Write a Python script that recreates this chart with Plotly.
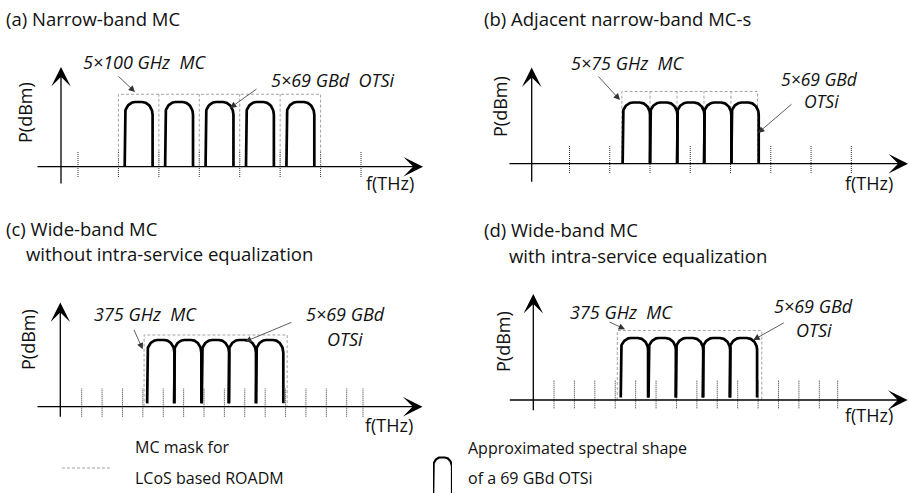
import numpy as np
import plotly.graph_objects as go

FIG_W, FIG_H = 909, 493

# ------------------------------------------------------------------ data
# frequency grid ticks (GHz, relative to the first grid line of each panel)
ticks_a = [0, 100, 200, 300, 400, 500, 600, 700]
ticks_b = [0, 100, 200, 300, 400, 500, 600, 700]
ticks_c = [0, 50, 100, 150, 200, 250, 300, 350, 400, 450, 500, 550, 600, 650, 690]
ticks_d = [0, 50, 100, 150, 200, 250, 300, 350, 400, 450, 500, 550, 600, 650, 695]

# media-channel (MC) mask edges (GHz)
mask_edges_a = [100, 200, 300, 400, 500, 600]
mask_edges_b = [130, 200, 267, 334, 401, 467]
mask_edges_c = [153, 504]
mask_edges_d = [155, 509]

# OTSi carrier centre frequencies (GHz) and occupied bandwidths (GHz)
otsi_centers_a = [150, 250, 350, 450, 550]
otsi_centers_b = [166, 234, 301, 368, 436]
otsi_centers_c = [194, 260, 328, 394, 461]
otsi_centers_d = [197, 265, 332, 398, 464]
otsi_bw = {"a": 69, "b": 68, "c": 67, "d": 67}

# normalised power levels (axis = 0, OTSi peak = 1)
otsi_peak = {"a": 1.0, "b": 1.0, "c": 1.0, "d": 1.0}
otsi_floor = {"a": 0.0, "b": 0.0, "c": 0.05, "d": 0.04}
mask_level = {"a": 1.12, "b": 1.18, "c": 1.075, "d": 1.12}

# texts
titles_line1 = {"a": "(a) Narrow-band MC", "b": "(b) Adjacent narrow-band MC-s",
                "c": "(c) Wide-band MC", "d": "(d) Wide-band MC"}
titles_line2 = {"c": "without intra-service equalization", "d": "with intra-service equalization"}
mc_labels = {"a": "5×100 GHz  MC", "b": "5×75 GHz  MC", "c": "375 GHz  MC", "d": "375 GHz  MC"}
otsi_label_lines = {"a": ["5×69 GBd  OTSi"], "b": ["5×69 GBd", "OTSi"],
                    "c": ["5×69 GBd", "OTSi"], "d": ["5×69 GBd", "OTSi"]}
y_label = "P(dBm)"
x_label = "f(THz)"
legend_mask_text = ["MC mask for", "LCoS based ROADM"]
legend_otsi_text = ["Approximated spectral shape", "of a 69 GBd OTSi"]

ticks = {"a": ticks_a, "b": ticks_b, "c": ticks_c, "d": ticks_d}
mask_edges = {"a": mask_edges_a, "b": mask_edges_b, "c": mask_edges_c, "d": mask_edges_d}
otsi_centers = {"a": otsi_centers_a, "b": otsi_centers_b, "c": otsi_centers_c, "d": otsi_centers_d}

# ------------------------------------------------------------------ layout (pixels)
PANELS = ["a", "b", "c", "d"]
AX = {"a": ("x", "y"), "b": ("x2", "y2"), "c": ("x3", "y3"), "d": ("x4", "y4")}
PX0 = {"a": 78.0, "b": 569.5, "c": 81.7, "d": 554.0}      # pixel of f = 0
KX = {"a": 0.4043, "b": 0.4026, "c": 0.4077, "d": 0.4082}  # px per GHz
PY0 = {"a": 166.7, "b": 163.7, "c": 406.7, "d": 400.0}     # pixel of P = 0 (axis)
KY = {"a": 64.7, "b": 61.2, "c": 66.7, "d": 62.0}          # px per power unit
YAXIS = {"a": (61, 185, 67), "b": (531.7, 183.3, 67.5), "c": (60.3, 418.3, 302.5), "d": (533.3, 411.7, 294)}
XAXIS = {"a": (36, 423), "b": (508, 908), "c": (36, 422.5), "d": (508.3, 907.5)}
TICK_UP = {"a": 14.7, "b": 18.7, "c": 18.4, "d": 20.0}
TICK_DN = {"a": 10.3, "b": 9.3, "c": 10.0, "d": 8.3}

TEXT_COLOR = "#111111"
FONT = "Open Sans"


def fx(p, px):
    return (px - PX0[p]) / KX[p]


def fy(p, py):
    return (PY0[p] - py) / KY[p]


def xp(px):
    return px / FIG_W


def yp(py):
    return 1 - py / FIG_H


def otsi_profile(fc, bw, top, floor, n=30):
    a = bw / 2.0
    rx = 0.75 * a
    ry = 0.2 * (top - floor)
    xs = [fc - a, fc - a]
    ys = [floor, top - ry]
    th = np.linspace(np.pi, np.pi / 2, n)
    xs += list(fc - a + rx + rx * np.cos(th))
    ys += list(top - ry + ry * np.sin(th))
    th = np.linspace(np.pi / 2, 0, n)
    xs += list(fc + a - rx + rx * np.cos(th))
    ys += list(top - ry + ry * np.sin(th))
    xs += [fc + a, fc + a]
    ys += [top - ry, floor]
    return xs, ys


fig = go.Figure()
annotations = []

for p in PANELS:
    xr, yr = AX[p]
    # grid ticks
    tx, ty = [], []
    for f in ticks[p]:
        tx += [f, f, None]
        ty += [-TICK_DN[p] / KY[p], TICK_UP[p] / KY[p], None]
    fig.add_trace(go.Scatter(x=tx, y=ty, mode="lines", xaxis=xr, yaxis=yr,
                             line=dict(color="#333333", width=1, dash="1px,1px"),
                             hoverinfo="skip"))
    # MC mask
    e = mask_edges[p]
    lvl = mask_level[p]
    mx = [e[0], e[0], e[-1], e[-1], None]
    my = [0, lvl, lvl, 0, None]
    for d in e[1:-1]:
        mx += [d, d, None]
        my += [0, lvl, None]
    fig.add_trace(go.Scatter(x=mx, y=my, mode="lines", xaxis=xr, yaxis=yr,
                             line=dict(color="#a3a3a3", width=1, dash="3px,2px"),
                             hoverinfo="skip"))
    # OTSi spectra
    sx, sy = [], []
    for fc in otsi_centers[p]:
        xs, ys = otsi_profile(fc, otsi_bw[p], otsi_peak[p], otsi_floor[p])
        sx += xs + [None]
        sy += ys + [None]
    fig.add_trace(go.Scatter(x=sx, y=sy, mode="lines", xaxis=xr, yaxis=yr,
                             line=dict(color="black", width=2.7, shape="linear"),
                             hoverinfo="skip"))
    # axes arrows
    yx, yb, yt = YAXIS[p]
    annotations.append(dict(xref=xr, yref=yr, axref=xr, ayref=yr,
                            x=fx(p, yx), y=fy(p, yt), ax=fx(p, yx), ay=fy(p, yb),
                            text="", showarrow=True, arrowhead=3, arrowsize=2.5,
                            arrowwidth=1.3, arrowcolor="black", standoff=0))
    xa0, xa1 = XAXIS[p]
    annotations.append(dict(xref=xr, yref=yr, axref=xr, ayref=yr,
                            x=fx(p, xa1), y=0, ax=fx(p, xa0), ay=0,
                            text="", showarrow=True, arrowhead=3, arrowsize=2.5,
                            arrowwidth=1.3, arrowcolor="black", standoff=0))

# -------------------------------------------------------------- label arrows
# (panel, head pixel x, head pixel y, tail dx, tail dy)
label_arrows = [("a", 135, 92, -18, -17), ("a", 230, 108, 28, -20),
                ("b", 620, 100, -23, -25), ("b", 758, 133, 35, -30),
                ("c", 142.7, 349.3, -9.4, -21), ("c", 245, 341.7, 48, -20),
                ("d", 625, 329.3, -17, -8), ("d", 753.3, 340, 32, -18)]
for p, hx, hy, dx, dy in label_arrows:
    xr, yr = AX[p]
    annotations.append(dict(xref=xr, yref=yr, x=fx(p, hx), y=fy(p, hy), ax=dx, ay=dy,
                            text="", showarrow=True, arrowhead=2, arrowsize=1.6,
                            arrowwidth=0.8, arrowcolor="#333333", standoff=0))


def add_text(txt, px, py, size, anchor="center", italic=False, angle=0):
    annotations.append(dict(xref="paper", yref="paper", x=xp(px), y=yp(py), text=txt,
                            showarrow=False, xanchor=anchor, yanchor="middle", textangle=angle,
                            font=dict(family=FONT, size=size, color=TEXT_COLOR,
                                      style="italic" if italic else "normal")))


TITLE_FS = 18.5
LABEL_FS = 18
# titles
add_text(titles_line1["a"], 4, 18, TITLE_FS, "left")
add_text(titles_line1["b"], 482, 18, TITLE_FS, "left")
add_text(titles_line1["c"], 4, 228, TITLE_FS, "left")
add_text(titles_line2["c"], 24, 253, TITLE_FS, "left")
add_text(titles_line1["d"], 482, 230, TITLE_FS, "left")
add_text(titles_line2["d"], 507, 255, TITLE_FS, "left")

# MC labels
add_text(mc_labels["a"], 145, 62, LABEL_FS, italic=True)
add_text(mc_labels["b"], 627.5, 63, LABEL_FS, italic=True)
add_text(mc_labels["c"], 145, 313.5, LABEL_FS, italic=True)
add_text(mc_labels["d"], 621, 311.7, LABEL_FS, italic=True)
# OTSi labels
add_text(otsi_label_lines["a"][0], 333, 80, LABEL_FS, italic=True)
add_text(otsi_label_lines["b"][0], 819, 78.5, 17.5, italic=True)
add_text(otsi_label_lines["b"][1], 821.5, 101.5, 17.5, italic=True)
add_text(otsi_label_lines["c"][0], 345.7, 314, LABEL_FS, italic=True)
add_text(otsi_label_lines["c"][1], 345, 338.5, LABEL_FS, italic=True)
add_text(otsi_label_lines["d"][0], 813.3, 306, LABEL_FS, italic=True)
add_text(otsi_label_lines["d"][1], 814, 330, LABEL_FS, italic=True)

# axis labels
AXIS_FS = 18
for px, py in [(25, 113), (500, 107), (28, 340), (503, 341)]:
    add_text(y_label, px, py, AXIS_FS, angle=-90)
for px, py in [(389.5, 183), (869, 183), (389, 425), (869, 415)]:
    add_text(x_label, px, py, AXIS_FS)

# legend
LEG_FS = 16
add_text(legend_mask_text[0], 133, 447, LEG_FS, "left")
add_text(legend_mask_text[1], 133, 478, LEG_FS, "left")
add_text(legend_otsi_text[0], 466, 448, LEG_FS, "left")
add_text(legend_otsi_text[1], 466, 478, LEG_FS, "left")

# legend symbols: dashed mask sample and OTSi shape sample (own small axes)
fig.add_trace(go.Scatter(x=[0, 1], y=[0, 0], mode="lines", xaxis="x5", yaxis="y5",
                         line=dict(color="#a3a3a3", width=1, dash="3px,2px"), hoverinfo="skip"))
gx, gy = otsi_profile(0.5, 1.0, 1.0, 0.0)
fig.add_trace(go.Scatter(x=gx, y=gy, mode="lines", xaxis="x6", yaxis="y6",
                         line=dict(color="black", width=2.2), hoverinfo="skip"))

layout_axes = {}
for p in PANELS:
    xr, yr = AX[p]
    xname = "xaxis" if xr == "x" else "xaxis" + xr[1:]
    yname = "yaxis" if yr == "y" else "yaxis" + yr[1:]
    layout_axes[xname] = dict(domain=[0, 1], range=[fx(p, 0), fx(p, FIG_W)], visible=False,
                              fixedrange=True, anchor=yr)
    layout_axes[yname] = dict(domain=[0, 1], range=[fy(p, FIG_H), fy(p, 0)], visible=False,
                              fixedrange=True, anchor=xr)
# legend dashed line: spans px 62..110 at py 468
layout_axes["xaxis5"] = dict(domain=[xp(62), xp(110)], range=[0, 1], visible=False, anchor="y5")
layout_axes["yaxis5"] = dict(domain=[yp(478), yp(458)], range=[-1, 1], visible=False, anchor="x5")
# legend OTSi glyph: spans px 433..452, top at py 458, base below the page
layout_axes["xaxis6"] = dict(domain=[xp(433), xp(452)], range=[0, 1], visible=False, anchor="y6")
layout_axes["yaxis6"] = dict(domain=[0, yp(456)], range=[0.3, 1.03], visible=False, anchor="x6")

fig.update_layout(width=FIG_W, height=FIG_H, margin=dict(l=0, r=0, t=0, b=0),
                  paper_bgcolor="white", plot_bgcolor="rgba(0,0,0,0)", showlegend=False,
                  annotations=annotations, **layout_axes)

fig.write_html("out.html")
